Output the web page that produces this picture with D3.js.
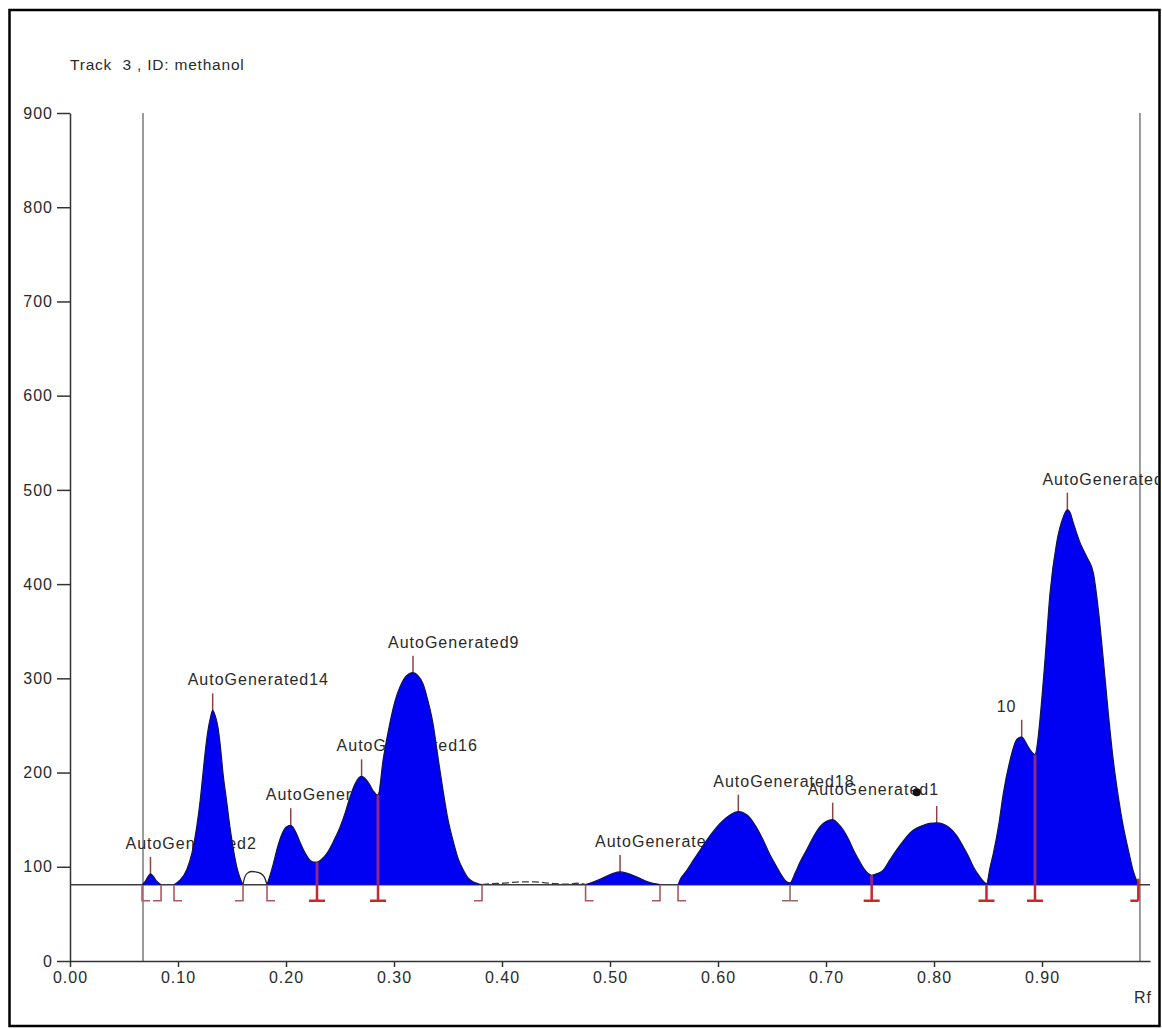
<!DOCTYPE html>
<html><head><meta charset="utf-8">
<script src="https://cdn.jsdelivr.net/npm/d3@7"></script>
<style>html,body{margin:0;padding:0;background:#fff;} svg{display:block;}</style>
</head><body>
<svg id="chart" width="1162" height="1029"></svg>
<script>
// ---------- data ----------
const chartTitle = "Track  3 , ID: methanol";
const xAxisTitle = "Rf";
const xTicks = [0, 0.1, 0.2, 0.3, 0.4, 0.5, 0.6, 0.7, 0.8, 0.9];
const yTicks = [0, 100, 200, 300, 400, 500, 600, 700, 800, 900];
const baselineValue = 81;
const trackLimits = [0.0676, 0.9907];

const traceRf = [
  0.0667,0.0700,0.0725,0.0745,0.0770,0.0800,0.0843,
  0.0963,0.1020,0.1081,0.1130,0.1173,0.1205,0.1231,0.1255,0.1278,0.1300,0.1321,0.1345,0.1370,0.1395,0.1417,0.1450,0.1481,0.1515,0.1544,0.1575,0.1602,
  0.1615,0.1640,0.1680,0.1720,0.1765,0.1800,
  0.1824,0.1850,0.1880,0.1920,0.1960,0.2000,0.2044,0.2090,0.2130,0.2180,0.2222,0.2255,0.2287,
  0.2330,0.2377,0.2440,0.2500,0.2550,0.2593,0.2640,0.2680,0.2700,0.2730,0.2770,0.2810,0.2852,
  0.2900,0.2963,0.3010,0.3056,0.3110,0.3176,0.3220,0.3269,0.3310,0.3361,0.3405,0.3454,0.3500,0.3546,0.3590,0.3639,0.3680,0.3731,0.3780,0.3815,
  0.3900,0.4000,0.4100,0.4200,0.4300,0.4400,0.4500,0.4600,0.4700,
  0.4774,0.4850,0.4950,0.5030,0.5093,0.5160,0.5250,0.5350,0.5463,
  0.5630,0.5648,0.5710,0.5772,0.5830,0.5895,0.5960,0.6019,0.6111,0.6188,0.6240,0.6296,0.6360,0.6420,0.6480,0.6543,0.6600,0.6636,0.6667,
  0.6713,0.6760,0.6821,0.6880,0.6944,0.7000,0.7062,0.7110,0.7160,0.7210,0.7253,0.7300,0.7346,0.7390,0.7423,
  0.7480,0.7530,0.7590,0.7654,0.7720,0.7778,0.7840,0.7901,0.7960,0.8025,0.8090,0.8148,0.8210,0.8272,0.8320,0.8364,0.8420,0.8472,0.8486,
  0.8520,0.8550,0.8600,0.8642,0.8704,0.8765,0.8812,0.8840,0.8873,0.8910,0.8935,
  0.8960,0.8981,0.9028,0.9074,0.9136,0.9198,0.9235,0.9260,0.9290,0.9352,0.9414,0.9475,0.9522,0.9568,0.9614,0.9660,0.9707,0.9753,0.9799,0.9846,0.9892
];
const traceSignal = [
  81,85,90,92.5,90,85,81,
  81,86,97,115,142,170,199,225,245,258,266,260,248,225,199,170,142,117,100,88,81,
  88,93,95,94.5,93,89,
  81,90,102,120,134,142,144,137,126,114,107,105,105,
  108,114,127,142,158,174,188,195,196,194,188,180,176,
  214,253,276,291,302,306,303,294,278,252,218,181,150,128,110,97,89,84,82,81,
  82,82.5,83.5,84,84,83,82,81.5,82.5,
  81,84,89,93,94.5,93,89,84,81,
  81,86,96,107,117,128,138,146,155,158.5,157,152,141,128,113,100,89,84,83,
  93,105,118,131,142.5,148,150,146,139,129,118,108,99,93,91,
  93,96.5,107,118,128,136,141,144,146,146.5,145,141,133,121,111,100,90,83,82,
  100,114.6,145,178,213,235,238,234,227,221,219,
  233,256,320,390,444,471.5,479,476,465,444,429,412,372.5,319.5,263,213,174,142.5,118,95,81
];

const filledRanges = [[0.0667,0.0843],[0.0963,0.1602],[0.1824,0.3815],[0.4774,0.5463],[0.5630,0.9892]];
const openRanges = [[0.1602,0.1824]];
const noiseRanges = [[0.3815,0.4774]];

const peakNames  = ["AutoGenerated2","AutoGenerated14","AutoGenerated11","AutoGenerated16","AutoGenerated9","AutoGenerated12","AutoGenerated18","AutoGenerated1","","10","AutoGenerated17"];
const peakRf     = [0.0745,0.1321,0.2044,0.2700,0.3176,0.5093,0.6188,0.7062,0.8025,0.8812,0.9235];
const peakValue  = [92.5,266,144,196,306,94.5,158.5,150,146.5,238,479];

const boundaryRf   = [0.0667,0.0843,0.0963,0.1602,0.1824,0.2287,0.2852,0.3815,0.4774,0.5463,0.5630,0.6667,0.7423,0.8486,0.8935,0.9892];
const boundaryKind = ["start","end","start","end","start","drop","drop","end","start","end","start","valley","drop","drop","drop","dropEnd"];

const dotRf = [0.784];
const dotValue = [179];

// ---------- drawing ----------
const W = 1162, H = 1029;
const svg = d3.select("#chart");
const FONT = "'Liberation Sans', Arial, Helvetica, sans-serif";
const textColor = "#2a2a2a";

svg.append("rect").attr("width", W).attr("height", H).attr("fill", "#fff");

const x = d3.scaleLinear().domain([0, 1]).range([70, 1150]);
const y = d3.scaleLinear().domain([0, 900]).range([961, 113]);
const yb = y(baselineValue);

const pts = traceRf.map((r, i) => ({r, v: traceSignal[i]}));
const inRange = (p, rg) => p.r >= rg[0] - 1e-9 && p.r <= rg[1] + 1e-9;
function traceAt(r) {
  const i = d3.bisectLeft(traceRf, r);
  if (i <= 0) return traceSignal[0];
  if (i >= traceRf.length) return traceSignal[traceRf.length - 1];
  if (traceRf[i] === r) return traceSignal[i];
  const r0 = traceRf[i-1], r1 = traceRf[i];
  return traceSignal[i-1] + (traceSignal[i] - traceSignal[i-1]) * (r - r0) / (r1 - r0);
}

// title
svg.append("text").attr("x", 70).attr("y", 70)
  .style("white-space", "pre")
  .attr("font-family", FONT).attr("font-size", 15.5).attr("letter-spacing", 0.8)
  .attr("fill", textColor).text(chartTitle);

// track limit lines
svg.append("g").selectAll("line").data(trackLimits).join("line")
  .attr("x1", d => x(d)).attr("x2", d => x(d))
  .attr("y1", y(900)).attr("y2", y(0))
  .attr("stroke", "#7a7a7a").attr("stroke-width", 1.5);

// baseline
svg.append("line").attr("x1", x(0)).attr("x2", x(1)).attr("y1", yb).attr("y2", yb)
  .attr("stroke", "#3a3a3a").attr("stroke-width", 1.5);

// peak labels (under the fill)
const clip = svg.append("clipPath").attr("id", "lblclip");
clip.append("rect").attr("x", 0).attr("y", 0).attr("width", 1158).attr("height", H);
const peaks = peakRf.map((r, i) => ({r, v: peakValue[i], name: peakNames[i]}));
const lblG = svg.append("g").attr("clip-path", "url(#lblclip)");
lblG.selectAll("text").data(peaks).join("text")
  .attr("x", d => x(d.r) - 25).attr("y", d => y(d.v) - 25)
  .attr("font-family", FONT).attr("font-size", 16).attr("letter-spacing", 1)
  .attr("fill", textColor).text(d => d.name);

// peak top ticks
svg.append("g").selectAll("line").data(peaks).join("line")
  .attr("x1", d => x(d.r)).attr("x2", d => x(d.r))
  .attr("y1", d => y(d.v)).attr("y2", d => y(d.v) - 17)
  .attr("stroke", "#8a4646").attr("stroke-width", 1.5);

// fills
const area = d3.area().curve(d3.curveMonotoneX)
  .x(d => x(d.r)).y0(yb).y1(d => y(d.v));
const line = d3.line().curve(d3.curveMonotoneX)
  .x(d => x(d.r)).y(d => y(d.v));
const fillG = svg.append("g");
filledRanges.forEach(rg => {
  const seg = pts.filter(p => inRange(p, rg));
  fillG.append("path").attr("d", area(seg)).attr("fill", "#0000f2");
  fillG.append("path").attr("d", line(seg)).attr("fill", "none")
    .attr("stroke", "#141452").attr("stroke-width", 1.2);
});
openRanges.forEach(rg => {
  const seg = pts.filter(p => inRange(p, rg));
  fillG.append("path").attr("d", line(seg)).attr("fill", "none")
    .attr("stroke", "#2a2a2a").attr("stroke-width", 1.3);
});
noiseRanges.forEach(rg => {
  const seg = pts.filter(p => inRange(p, rg));
  fillG.append("path").attr("d", line(seg)).attr("fill", "none")
    .attr("stroke", "#3a3a3a").attr("stroke-width", 1.3).attr("stroke-dasharray", "7,3");
});

// boundary markers
const bG = svg.append("g").attr("fill", "none");
const drop = 16, foot = 8;
boundaryRf.forEach((r, i) => {
  const k = boundaryKind[i];
  const px = x(r);
  const yBot = yb + drop;
  if (k === "start" || k === "end") {
    const f = k === "start" ? foot : -foot;
    bG.append("path").attr("d", `M${px},${yb}L${px},${yBot}L${px + f},${yBot}`)
      .attr("stroke", "#ad5862").attr("stroke-width", 1.6);
  } else if (k === "valley") {
    bG.append("path").attr("d", `M${px},${yb}L${px},${yBot}M${px - foot},${yBot}L${px + foot},${yBot}`)
      .attr("stroke", "#8e6e66").attr("stroke-width", 1.6);
  } else {
    const yTop = y(traceAt(r));
    if (yb - yTop > 2) {
      bG.append("line").attr("x1", px).attr("x2", px).attr("y1", yTop).attr("y2", yb)
        .attr("stroke", "#8c2a86").attr("stroke-width", 3);
    }
    const d = k === "dropEnd"
      ? `M${px},${yb - 6}L${px},${yBot}M${px - foot},${yBot}L${px},${yBot}`
      : `M${px},${yb}L${px},${yBot}M${px - foot},${yBot}L${px + foot},${yBot}`;
    bG.append("path").attr("d", d).attr("stroke", "#c8282a").attr("stroke-width", 2.5);
  }
});

// dot
svg.append("g").selectAll("circle").data(dotRf).join("circle")
  .attr("cx", d => x(d)).attr("cy", (d, i) => y(dotValue[i])).attr("r", 4).attr("fill", "#111");

// axes
const xAxis = d3.axisBottom(x).tickValues(xTicks).tickFormat(d3.format(".2f"))
  .tickSize(6).tickSizeOuter(0).tickPadding(5);
const yAxis = d3.axisLeft(y).tickValues(yTicks).tickFormat(d3.format("d"))
  .tickSize(13).tickSizeOuter(0).tickPadding(4);
const gx = svg.append("g").attr("transform", `translate(0,${y(0)})`).call(xAxis);
const gy = svg.append("g").attr("transform", `translate(${x(0)},0)`).call(yAxis);
[gx, gy].forEach(g => {
  g.selectAll("path,line").attr("stroke", "#333").attr("stroke-width", 1.5);
  g.selectAll("text").attr("font-family", FONT).attr("font-size", 16)
    .attr("letter-spacing", 1).attr("fill", textColor);
});

svg.append("text").attr("x", 1134).attr("y", 1003)
  .attr("font-family", FONT).attr("font-size", 16).attr("letter-spacing", 1)
  .attr("fill", textColor).text(xAxisTitle);

// frame
svg.append("rect").attr("x", 9.5).attr("y", 10).attr("width", 1150).attr("height", 1016)
  .attr("fill", "none").attr("stroke", "#000").attr("stroke-width", 2.5);
</script>
</body></html>
